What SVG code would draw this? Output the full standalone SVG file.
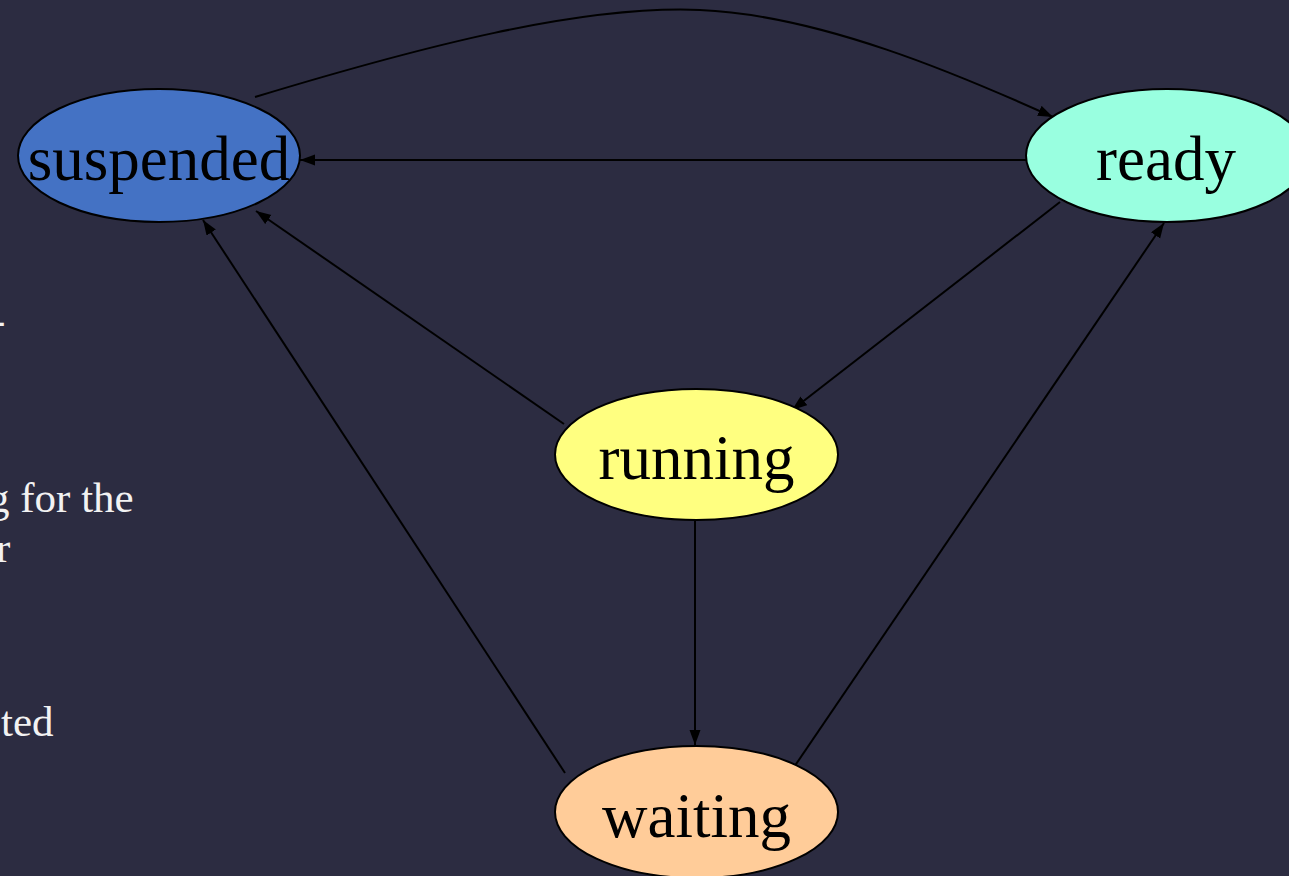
<svg xmlns="http://www.w3.org/2000/svg" width="1289" height="876" viewBox="0 0 1289 876">
  <style>
    .node ellipse { stroke: #000; stroke-width: 2; }
    .label { font-family: "Liberation Serif", "Times New Roman", serif; font-size: 63px; fill: #000; text-anchor: middle; }
    .side { font-family: "Liberation Serif", "Times New Roman", serif; font-size: 43px; fill: #f2f2f2; }
    .edge { fill: none; stroke: #000; stroke-width: 2; marker-end: url(#arrow); }
  </style>
  <defs>
    <marker id="arrow" markerUnits="userSpaceOnUse" markerWidth="16" markerHeight="12" refX="15" refY="5.5" orient="auto">
      <path d="M0,0 L15,5.5 L0,11 z" fill="#000"/>
    </marker>
  </defs>

  <rect width="1289" height="876" fill="#2c2c41"/>

  <!-- side notes, cut at the left edge -->
  <g id="notes">
    <text class="side" x="-9" y="334">-</text>
    <text class="side" x="-12" y="512">g for the</text>
    <text class="side" x="-4" y="562">r</text>
    <text class="side" x="1" y="736">ted</text>
  </g>

  <g id="connectors">
    <path class="edge" d="M255,97 C420,47 580,5 700,10 C820,15 960,75 1053,117"/>
    <path class="edge" d="M1026,160 L300,160"/>
    <path class="edge" d="M1060,202 L792,410"/>
    <path class="edge" d="M564,424 L256,211"/>
    <path class="edge" d="M565,773 L203,220"/>
    <path class="edge" d="M695,521 L695,745"/>
    <path class="edge" d="M790,773 L1164,223"/>
  </g>

  <g id="suspended" class="node">
    <ellipse cx="159" cy="155.5" rx="141" ry="66.5" fill="#4472c4"/>
    <text class="label" x="159" y="180">suspended</text>
  </g>
  <g id="ready" class="node">
    <ellipse cx="1167" cy="155.5" rx="141" ry="66.5" fill="#99ffe0"/>
    <text class="label" x="1166" y="180">ready</text>
  </g>
  <g id="running" class="node">
    <ellipse cx="696.5" cy="454.5" rx="141.5" ry="65.5" fill="#ffff80"/>
    <text class="label" x="696.5" y="479">running</text>
  </g>
  <g id="waiting" class="node">
    <ellipse cx="696.5" cy="812" rx="141.5" ry="66" fill="#ffcc99"/>
    <text class="label" x="696.5" y="837">waiting</text>
  </g>
</svg>
